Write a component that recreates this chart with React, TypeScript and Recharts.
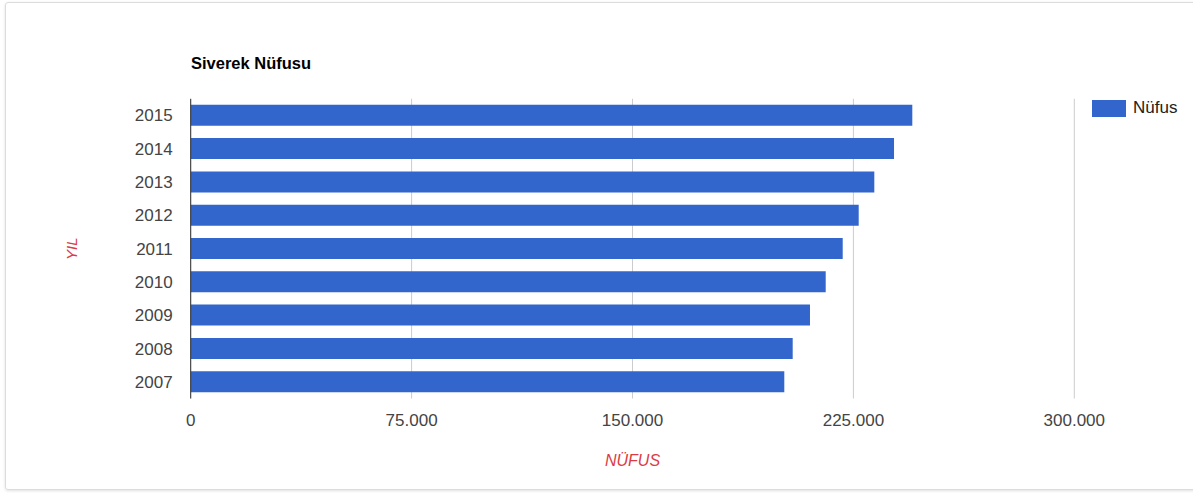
import React from "react";
import { BarChart, Bar, XAxis, YAxis, CartesianGrid, Legend, Label } from "recharts";

const years = ["2007", "2008", "2009", "2010", "2011", "2012", "2013", "2014", "2015"];
const population = [201540, 204390, 210260, 215600, 221370, 226800, 232100, 238790, 245000];
const xTicks = [0, 75000, 150000, 225000, 300000];

const seriesName = "Nüfus";
const title = "Siverek Nüfusu";
const xTitle = "NÜFUS";
const yTitle = "YIL";

const data = years.map((y, i) => ({ year: y, value: population[i] }));

const FONT = "Arial, 'Liberation Sans', sans-serif";
const BLUE = "#3366cc";
const RED = "#dc3b45";

const fmt = (v: number) => v.toLocaleString("tr-TR");

const LegendContent = (props: any) => {
  const p = props.payload || [];
  return (
    <div style={{ fontFamily: FONT }}>
      {p.map((e: any) => (
        <div key={e.value} style={{ display: "flex", alignItems: "center" }}>
          <div style={{ width: 34, height: 17, background: e.color }} />
          <span style={{ marginLeft: 7, fontSize: 17, color: "#222" }}>{e.value}</span>
        </div>
      ))}
    </div>
  );
};

export default function App() {
  return (
    <div style={{ position: "absolute", left: 0, top: 0, width: 1193, height: 493, background: "#fff", overflow: "hidden" }}>
      <div
        style={{
          position: "absolute",
          left: 5,
          top: 2,
          width: 1210,
          height: 488,
          border: "1px solid #dcdcdc",
          borderRadius: 3,
          boxShadow: "0 1px 3px rgba(0,0,0,0.12)",
          boxSizing: "border-box",
        }}
      />
      <div
        style={{
          position: "absolute",
          left: 191,
          top: 52.6,
          fontFamily: FONT,
          fontWeight: "bold",
          fontSize: 16.5,
          lineHeight: "20px",
          color: "#000",
          whiteSpace: "nowrap",
        }}
      >
        {title}
      </div>
      <div style={{ position: "absolute", left: 0, top: 0 }}>
        <BarChart
          width={1193}
          height={493}
          data={data}
          layout="vertical"
          margin={{ top: 98.8, right: 118.7, bottom: 64.5, left: 10.7 }}
          barSize={21}
        >
          <CartesianGrid horizontal={false} stroke="#cccccc" strokeWidth={1} />
          <XAxis
            type="number"
            domain={[0, 300000]}
            ticks={xTicks}
            tickFormatter={fmt}
            axisLine={false}
            tickLine={false}
            tickMargin={9}
            height={30}
            tick={{ fill: "#444", fontSize: 17, fontFamily: FONT }}
            interval={0}
          >
            <Label
              content={(lp: any) => {
                const vb = lp.viewBox;
                return (
                  <text
                    x={vb.x + vb.width / 2}
                    y={vb.y + vb.height + 37}
                    textAnchor="middle"
                    fill={RED}
                    fontStyle="italic"
                    fontSize={16}
                    fontFamily={FONT}
                  >
                    {xTitle}
                  </text>
                );
              }}
            />
          </XAxis>
          <YAxis
            type="category"
            dataKey="year"
            reversed
            width={180}
            axisLine={{ stroke: "#333", strokeWidth: 1 }}
            tickLine={false}
            tickMargin={12}
            tick={{ fill: "#444", fontSize: 17, fontFamily: FONT }}
            interval={0}
          >
            <Label
              content={(lp: any) => {
                const vb = lp.viewBox;
                const cx = vb.x + 61.3;
                const cy = vb.y + vb.height / 2;
                return (
                  <text
                    x={cx}
                    y={cy}
                    textAnchor="middle"
                    dominantBaseline="central"
                    transform={`rotate(-90, ${cx}, ${cy})`}
                    fill={RED}
                    fontStyle="italic"
                    fontSize={15}
                    fontFamily={FONT}
                  >
                    {yTitle}
                  </text>
                );
              }}
            />
          </YAxis>
          <Legend
            layout="horizontal"
            verticalAlign="middle"
            align="center"
            content={LegendContent}
            wrapperStyle={{ position: "absolute", left: 1092, top: 98, width: 100 }}
          />
          <Bar dataKey="value" name={seriesName} fill={BLUE} isAnimationActive={false} />
        </BarChart>
      </div>
    </div>
  );
}
